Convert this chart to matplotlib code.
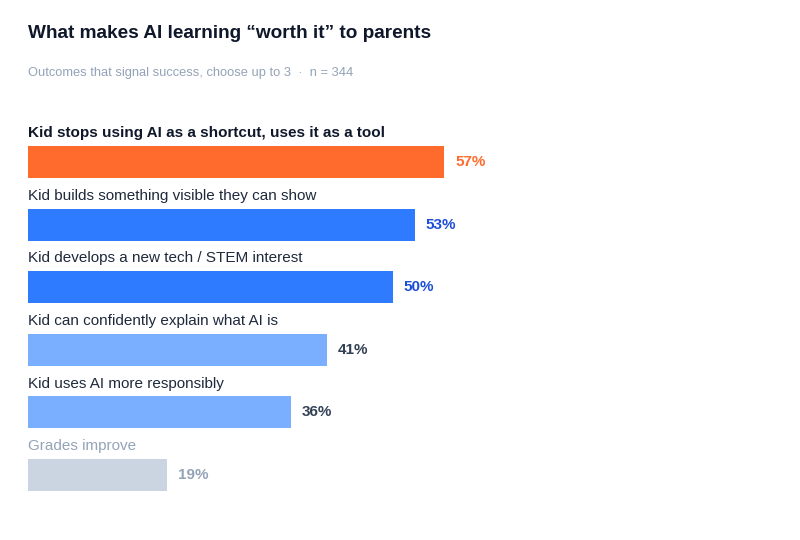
import matplotlib
matplotlib.use("Agg")
import matplotlib.pyplot as plt

categories = [
    "Kid stops using AI as a shortcut, uses it as a tool",
    "Kid builds something visible they can show",
    "Kid develops a new tech / STEM interest",
    "Kid can confidently explain what AI is",
    "Kid uses AI more responsibly",
    "Grades improve",
]
values = [57, 53, 50, 41, 36, 19]
bar_colors = ["#FF6B2C", "#2F7BFF", "#2F7BFF", "#7AAEFF", "#7AAEFF", "#CBD5E1"]
value_colors = ["#FF6B2C", "#1D4ED8", "#1D4ED8", "#334155", "#334155", "#94A3B8"]
label_colors = ["#0F172A", "#1E293B", "#1E293B", "#1E293B", "#1E293B", "#94A3B8"]
label_weights = ["bold", "normal", "normal", "normal", "normal", "normal"]

plt.rcParams['font.family'] = ['Liberation Sans', 'DejaVu Sans']

fig = plt.figure(figsize=(8, 5.4), dpi=100)
fig.patch.set_facecolor("white")
ax = fig.add_axes([28/800, 20/540, 730/800, 420/540])
ax.set_xlim(0, 100)
ax.set_ylim(5.72, -0.99)
ax.axis("off")

ys = list(range(len(values)))
ax.barh(ys, values, height=0.51, color=bar_colors, edgecolor="none")
for y, v, lab, vc, lc, lw in zip(ys, values, categories, value_colors, label_colors, label_weights):
    ax.text(0, y - 0.46, lab, ha="left", va="center", fontsize=11, color=lc, fontweight=lw)
    ax.text(v + 1.5, y, f"{v}%", ha="left", va="center", fontsize=11, color=vc, fontweight="bold")

fig.text(28/800, 1 - 34/540, "What makes AI learning \u201cworth it\u201d to parents",
         ha="left", va="center", fontsize=13.7, fontweight="bold", color="#0F172A")
fig.text(28/800, 1 - 73/540, "Outcomes that signal success, choose up to 3  \u00b7  n = 344",
         ha="left", va="center", fontsize=9.3, color="#94A3B8")

fig.savefig("out.png", dpi=100, facecolor="white")
